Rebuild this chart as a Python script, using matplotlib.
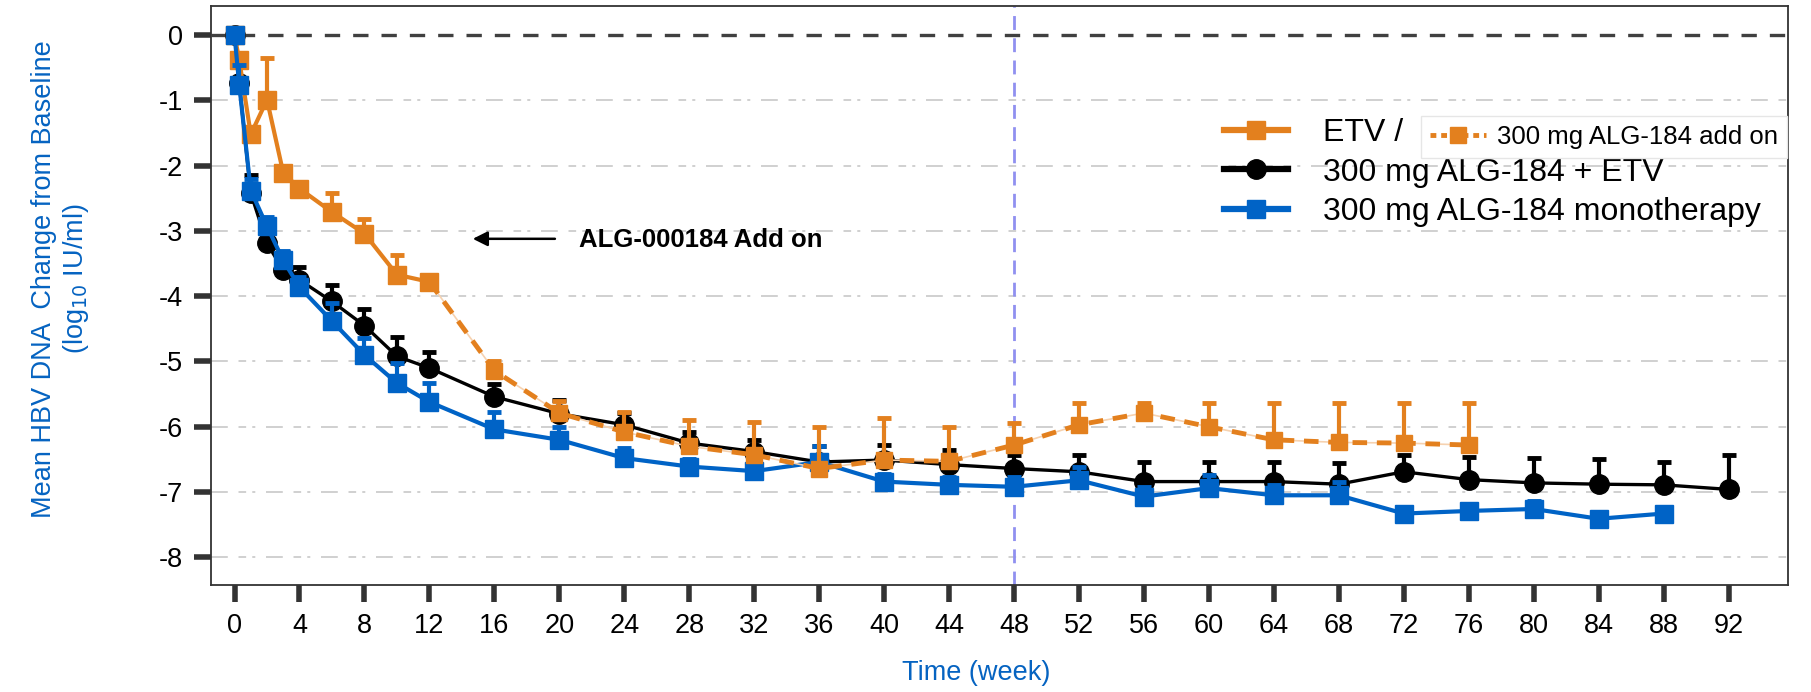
import matplotlib
matplotlib.use("Agg")
import matplotlib.pyplot as plt
from matplotlib.lines import Line2D
import numpy as np

plt.rcParams["font.family"] = ["Liberation Sans", "DejaVu Sans"]

# ETV phase (solid orange), weeks 0-12
etv_weeks = [0, 0.29, 1, 2, 3, 4, 6, 8, 10, 12]
etv_mean = [0, -0.38, -1.52, -0.99, -2.11, -2.35, -2.71, -3.04, -3.67, -3.78]
etv_err = [0.05, 0.10, 0.10, 0.64, 0.10, 0.10, 0.29, 0.23, 0.30, 0.10]

# ALG-184 add on phase (dashed orange)
addon_weeks = [12, 16, 20, 24, 28, 32, 36, 40, 44, 48, 52, 56, 60, 64, 68, 72, 76]
addon_mean = [-3.78, -5.14, -5.79, -6.08, -6.30, -6.43, -6.64, -6.51, -6.53,
              -6.28, -5.97, -5.79, -6.00, -6.20, -6.24, -6.25, -6.28]
addon_err = [0.0, 0.14, 0.19, 0.31, 0.40, 0.51, 0.64, 0.64, 0.53,
             0.34, 0.33, 0.15, 0.36, 0.56, 0.60, 0.61, 0.64]

# 300 mg ALG-184 + ETV
combo_weeks = [0, 0.29, 1, 2, 3, 4, 6, 8, 10, 12, 16, 20, 24, 28, 32, 36, 40, 44,
               48, 52, 56, 60, 64, 68, 72, 76, 80, 84, 88, 92]
combo_mean = [0, -0.74, -2.42, -3.19, -3.60, -3.75, -4.08, -4.45, -4.92, -5.10,
              -5.54, -5.80, -5.97, -6.25, -6.38, -6.54, -6.51, -6.58, -6.64, -6.69,
              -6.84, -6.84, -6.84, -6.88, -6.69, -6.81, -6.86, -6.88, -6.89, -6.96]
combo_err = [0.05, 0.05, 0.28, 0.20, 0.28, 0.20, 0.25, 0.26, 0.30, 0.25,
             0.20, 0.21, 0.18, 0.17, 0.18, 0.25, 0.23, 0.22, 0.20, 0.26,
             0.30, 0.30, 0.30, 0.32, 0.26, 0.34, 0.38, 0.38, 0.35, 0.52]

# 300 mg ALG-184 monotherapy
mono_weeks = [0, 0.29, 1, 2, 3, 4, 6, 8, 10, 12, 16, 20, 24, 28, 32, 36, 40, 44,
              48, 52, 56, 60, 64, 68, 72, 76, 80, 84, 88]
mono_mean = [0, -0.76, -2.38, -2.93, -3.45, -3.86, -4.38, -4.90, -5.33, -5.62,
             -6.04, -6.20, -6.48, -6.61, -6.68, -6.54, -6.84, -6.89, -6.92, -6.82,
             -7.07, -6.94, -7.05, -7.05, -7.33, -7.29, -7.26, -7.41, -7.33]
mono_err = [0.05, 0.30, 0.17, 0.15, 0.15, 0.15, 0.27, 0.26, 0.30, 0.29,
            0.27, 0.20, 0.15, 0.12, 0.12, 0.25, 0.12, 0.12, 0.15, 0.20,
            0.15, 0.20, 0.15, 0.20, 0.10, 0.10, 0.12, 0.10, 0.05]

xticks = list(range(0, 93, 4))
yticks = list(range(0, -9, -1))

ORANGE = "#E3801E"
BLUE = "#0063C6"
LBLUE = "#0563C1"

fig = plt.figure(figsize=(18.11, 6.92), dpi=100)
ax = fig.add_axes([0.1165, 0.1546, 0.8708, 0.8367])

# grid lines + reference lines
for y in yticks[1:]:
    ax.axhline(y, color="#C4C4C4", lw=1.1, ls=(0, (11, 7, 5, 4, 2, 7)), zorder=0)
ax.axhline(0, color="#404040", lw=2.4, ls=(0, (4.6, 3.9)), zorder=1)
ax.axvline(48, color="#9090F0", lw=2.0, ls=(0, (5, 3)), zorder=1)


def draw(weeks, mean, err, color, marker, ms, lw, ls="-", z=3):
    lower = np.zeros(len(err))
    ax.errorbar(weeks, mean, yerr=[lower, err], color=color, marker=marker,
                ms=ms, lw=lw, ls=ls, elinewidth=3, capsize=5, capthick=3.5,
                zorder=z)


draw(combo_weeks, combo_mean, combo_err, "black", "o", 14, 2.4, z=3)
draw(etv_weeks, etv_mean, etv_err, ORANGE, "s", 13, 3.0, z=3.5)
draw(mono_weeks, mono_mean, mono_err, BLUE, "s", 13, 3.0, z=4)
ax.plot(addon_weeks, addon_mean, color="#F6D2B0", lw=1.2, zorder=4.5)
draw(addon_weeks, addon_mean, addon_err, ORANGE, "s", 12, 3.5, ls=(0, (3, 2)), z=5)

ax.set_xlim(-1.45, 95.66)
ax.set_ylim(-8.425, 0.447)
ax.set_xticks(xticks)
ax.set_yticks(yticks)
ax.set_yticklabels([str(v) for v in yticks])
ax.tick_params(axis="both", direction="out", length=12, width=4,
               color="#333333", labelsize=19.5, pad=8)
for s in ax.spines.values():
    s.set_color("#333333")
    s.set_linewidth(1.3)

# annotation
ax.annotate("", xy=(14.5, -3.12), xytext=(19.9, -3.12),
            arrowprops=dict(arrowstyle="-|>", color="black", lw=1.8,
                            mutation_scale=22))
ax.text(21.2, -3.14, "ALG-000184 Add on", fontsize=18.5, fontweight="bold",
        va="center", ha="left")

# legends
h_etv = Line2D([], [], color=ORANGE, marker="s", ms=13, lw=4.5)
h_combo = Line2D([], [], color="black", marker="o", ms=14, lw=4.5)
h_mono = Line2D([], [], color=BLUE, marker="s", ms=13, lw=4.5)
leg = ax.legend([h_etv, h_combo, h_mono],
                ["ETV /", "300 mg ALG-184 + ETV", "300 mg ALG-184 monotherapy"],
                loc="upper left", bbox_to_anchor=(1224 / 1811, 1 - 118 / 692),
                bbox_transform=fig.transFigure, frameon=False, fontsize=23,
                handlelength=2.0, handletextpad=1.1, labelspacing=0.3,
                borderpad=0, borderaxespad=0)
ax.add_artist(leg)

h_add = Line2D([], [], color=ORANGE, marker="s", ms=11, lw=3.5, ls=(0, (1.2, 1)))
leg2 = ax.legend([h_add], ["300 mg ALG-184 add on"], loc="center left",
                 bbox_to_anchor=(1408 / 1811, 1 - 137 / 692),
                 bbox_transform=fig.transFigure, fontsize=18.5,
                 handlelength=2.2, handletextpad=0.4, borderpad=0.35,
                 fancybox=False, framealpha=1, edgecolor="#E6E6E6")
leg2.get_frame().set_linewidth(1.0)

fig.text(61 / 1811, 1 - 279 / 692,
         "Mean HBV DNA  Change from Baseline\n(log$_{10}$ IU/ml)",
         rotation=90, ha="center", va="center", multialignment="center",
         fontsize=19.5, color=LBLUE, linespacing=1.2)
fig.text(976 / 1811, 1 - 673 / 692, "Time (week)", ha="center", va="center",
         fontsize=19.5, color=LBLUE)

fig.savefig("out.png", dpi=100)
